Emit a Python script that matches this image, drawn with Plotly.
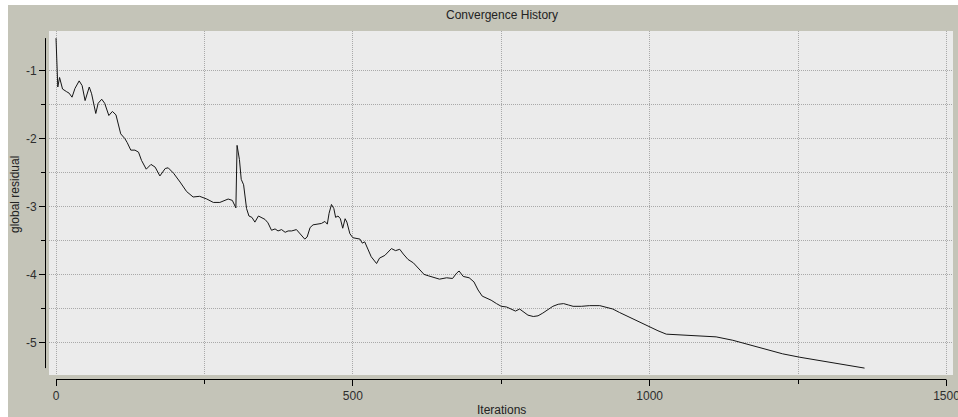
import plotly.graph_objects as go

# Convergence history of the solver: global residual (log10) per iteration
iterations = [
    0, 1, 3, 6, 11, 18, 22, 27, 32, 39, 44, 49, 56, 60, 67, 71, 77, 82, 89, 95,
    101, 109, 116, 120, 126, 133, 139, 144, 152, 160, 167, 175, 184, 189, 198,
    209, 220, 231, 242, 254, 265, 276, 290, 297, 303, 305, 309, 312, 316, 321,
    325, 330, 335, 341, 346, 352, 357, 363, 369, 374, 380, 386, 391, 397, 405,
    411, 419, 423, 428, 433, 442, 447, 453, 457, 460, 464, 468, 471, 475, 479,
    483, 487, 490, 495, 500, 506, 512, 516, 520, 526, 531, 540, 545, 554, 565,
    572, 579, 585, 593, 602, 610, 620, 627, 635, 646, 658, 668, 675, 679, 686,
    696, 704, 711, 718, 726, 733, 742, 750, 759, 767, 774, 781, 788, 795, 804,
    812, 820, 829, 837, 846, 855, 863, 871, 885, 899, 916, 927, 938, 949, 961,
    972, 986, 1000, 1014, 1028, 1045, 1079, 1112, 1140, 1168, 1197, 1224, 1253,
    1281, 1309, 1336, 1362,
]
global_residual = [
    -0.52, -0.78, -1.24, -1.10, -1.27, -1.31, -1.33, -1.39, -1.26, -1.15, -1.22,
    -1.44, -1.24, -1.34, -1.63, -1.48, -1.42, -1.48, -1.66, -1.60, -1.65, -1.93,
    -2.00, -2.06, -2.17, -2.17, -2.20, -2.32, -2.45, -2.38, -2.42, -2.55, -2.44,
    -2.43, -2.51, -2.64, -2.78, -2.86, -2.85, -2.89, -2.94, -2.94, -2.89, -2.91,
    -3.02, -2.10, -2.31, -2.60, -2.68, -3.03, -3.14, -3.16, -3.23, -3.14, -3.16,
    -3.19, -3.24, -3.35, -3.33, -3.36, -3.34, -3.38, -3.36, -3.36, -3.34, -3.40,
    -3.48, -3.45, -3.31, -3.27, -3.26, -3.25, -3.22, -3.26, -3.10, -2.97, -3.03,
    -3.16, -3.14, -3.18, -3.32, -3.18, -3.23, -3.40, -3.46, -3.47, -3.48, -3.54,
    -3.52, -3.64, -3.74, -3.84, -3.76, -3.72, -3.62, -3.65, -3.63, -3.70, -3.78,
    -3.83, -3.91, -4.00, -4.02, -4.04, -4.07, -4.05, -4.06, -3.98, -3.95, -4.03,
    -4.05, -4.11, -4.23, -4.32, -4.35, -4.38, -4.43, -4.47, -4.48, -4.51, -4.54,
    -4.51, -4.55, -4.60, -4.62, -4.61, -4.57, -4.51, -4.47, -4.44, -4.43, -4.45,
    -4.47, -4.47, -4.46, -4.46, -4.48, -4.51, -4.56, -4.61, -4.66, -4.72, -4.78,
    -4.83, -4.88, -4.89, -4.90, -4.92, -4.97, -5.04, -5.11, -5.17, -5.22, -5.26,
    -5.30, -5.34, -5.38,
]

x_tickvals = [0, 500, 1000, 1500]
x_ticktext = ["0", "500", "1000", "1500"]
y_tickvals = [-1, -2, -3, -4, -5]
y_ticktext = ["-1", "-2", "-3", "-4", "-5"]
y_minor_vals = [-1.5, -2.5, -3.5, -4.5]

W, H = 958, 417
ML, MR, MT, MB = 45, 5, 31, 38
PW, PH = W - ML - MR, H - MT - MB

PANEL = "#c4c4b8"
CANVAS = "#ebebeb"
GRID = "#a9a9a9"
FONT = "Liberation Sans, Arial, sans-serif"


def px_x(px):
    return (px - ML) / PW


def px_y(py):
    return (H - MB - py) / PH


fig = go.Figure()
fig.add_trace(go.Scatter(
    x=iterations, y=global_residual, mode="lines",
    line=dict(color="#151515", width=1),
    showlegend=False, hoverinfo="x+y",
))

axis_common = dict(
    showline=False, zeroline=False, automargin=False,
    ticks="outside", ticklen=6, tickwidth=1, tickcolor="#000000",
    tickfont=dict(family=FONT, size=12, color="#2e2e2e"),
    showgrid=True, gridcolor=GRID, gridwidth=1, griddash="1px,1px",
    anchor="free", position=0,
)

fig.update_layout(
    width=W, height=H, autosize=False,
    margin=dict(l=ML, r=MR, t=MT, b=MB, pad=0, autoexpand=False),
    paper_bgcolor=PANEL, plot_bgcolor=CANVAS,
    font=dict(family=FONT, size=12, color="#2e2e2e"),
    xaxis=dict(
        axis_common,
        ticklabeloverflow="allow",
        domain=[px_x(49), 1],
        range=[-11.8, 1511.0],
        tickmode="array", tickvals=x_tickvals, ticktext=x_ticktext,
        minor=dict(dtick=250, tick0=0, ticks="outside", ticklen=4,
                   tickcolor="#000000", showgrid=True, gridcolor=GRID,
                   griddash="1px,1px"),
    ),
    yaxis=dict(
        axis_common,
        domain=[px_y(375), 1],
        range=[-5.4816, -0.4153],
        tickmode="array", tickvals=y_tickvals, ticktext=y_ticktext,
        minor=dict(tickvals=y_minor_vals, ticks="outside", ticklen=4,
                   tickcolor="#000000", showgrid=True, gridcolor=GRID,
                   griddash="1px,1px"),
    ),
    annotations=[
        dict(text="Convergence History", xref="paper", yref="paper",
             x=px_x(502), y=px_y(15), xanchor="center", yanchor="middle",
             showarrow=False, font=dict(family=FONT, size=12, color="#222222")),
        dict(text="Iterations", xref="paper", yref="paper",
             x=px_x(501), y=px_y(410), xanchor="center", yanchor="middle",
             showarrow=False, font=dict(family=FONT, size=12, color="#222222")),
        dict(text="global residual", xref="paper", yref="paper",
             x=px_x(15), y=px_y(195), xanchor="center", yanchor="middle",
             textangle=-90, showarrow=False,
             font=dict(family=FONT, size=12, color="#222222")),
    ],
    shapes=[
        # axis backbones, detached from the canvas
        dict(type="line", xref="x", yref="paper", x0=0, x1=1500,
             y0=px_y(379.5), y1=px_y(379.5),
             line=dict(color="#000000", width=1), layer="above"),
        dict(type="line", xref="paper", yref="y", x0=px_x(45.5), x1=px_x(45.5),
             y0=min(global_residual), y1=max(global_residual),
             line=dict(color="#000000", width=1), layer="above"),
        # white margin strips around the panel
        dict(type="rect", xref="paper", yref="paper",
             x0=px_x(0), x1=px_x(8), y0=px_y(H), y1=px_y(0),
             line=dict(width=0), fillcolor="#ffffff", layer="above"),
        dict(type="rect", xref="paper", yref="paper",
             x0=px_x(0), x1=px_x(W), y0=px_y(5), y1=px_y(0),
             line=dict(width=0), fillcolor="#ffffff", layer="above"),
    ],
)

fig.write_html("out.html", post_script=(
    "document.documentElement.style.overflow='hidden';"
    "document.body.style.overflow='hidden';"
))
